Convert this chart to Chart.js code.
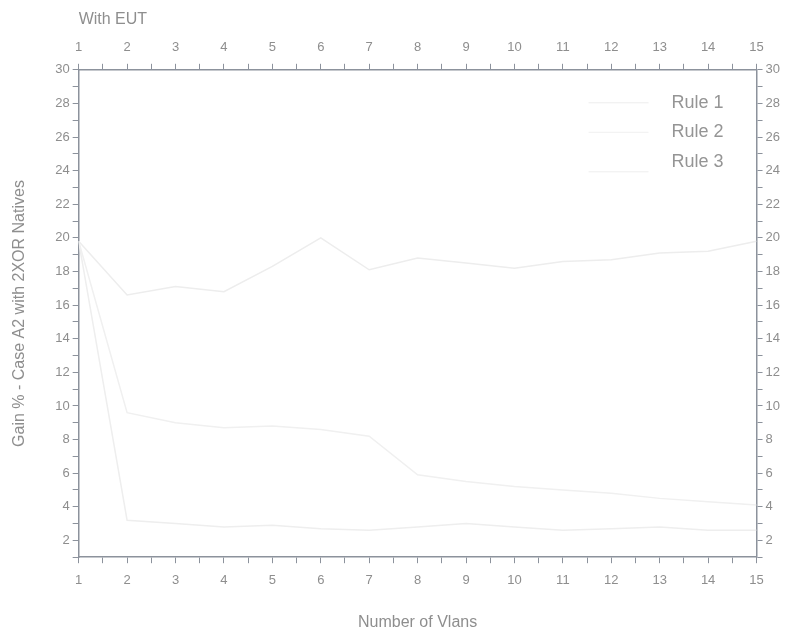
<!DOCTYPE html>
<html>
<head>
<meta charset="utf-8">
<script src="https://cdn.jsdelivr.net/npm/chart.js@4.4.0/dist/chart.umd.min.js"></script>
<style>
  body { margin: 0; background: #fff; }
  #wrap { width: 791px; height: 632px; }
</style>
</head>
<body>
<div id="wrap"><canvas id="gain-chart" width="791" height="632"></canvas></div>
<script>
// Values (lines are very faint, so estimates)
const vlans = [1, 2, 3, 4, 5, 6, 7, 8, 9, 10, 11, 12, 13, 14, 15];
const rule1 = [19.8, 16.6, 17.1, 16.8, 18.3, 20.0, 18.1, 18.8, 18.5, 18.2, 18.6, 18.7, 19.1, 19.2, 19.8];
const rule2 = [19.8, 9.6, 9.0, 8.7, 8.8, 8.6, 8.2, 5.9, 5.5, 5.2, 5.0, 4.8, 4.5, 4.3, 4.1];
const rule3 = [19.8, 3.2, 3.0, 2.8, 2.9, 2.7, 2.6, 2.8, 3.0, 2.8, 2.6, 2.7, 2.8, 2.6, 2.6];
const seriesNames = ['Rule 1', 'Rule 2', 'Rule 3'];
const lineColors = ['#ededed', '#f0f0f0', '#eeeeee'];

const axisColor = '#8c929c';
const textColor = '#8e8e8e';
const fontFamily = '"Liberation Sans", Arial, sans-serif';

function toPoints(values) {
    return vlans.map((v, i) => ({ x: v, y: values[i] }));
}

// legend drawn inside the plot, top right, line sample left of the text
const insideLegend = {
    id: 'insideLegend',
    afterDraw(chart) {
        const ctx = chart.ctx;
        const right = chart.chartArea.right - 33;
        ctx.save();
        ctx.font = '18px ' + fontFamily;
        ctx.textAlign = 'right';
        ctx.textBaseline = 'middle';
        seriesNames.forEach((name, i) => {
            const y = chart.chartArea.top + 33 + i * 29.5;
            ctx.strokeStyle = lineColors[i];
            ctx.lineWidth = 1;
            ctx.beginPath();
            ctx.moveTo(right - 135, y + (i === 2 ? 10 : 0));
            ctx.lineTo(right - 75, y + (i === 2 ? 10 : 0));
            ctx.stroke();
            ctx.fillStyle = '#959595';
            ctx.fillText(name, right, y);
        });
        ctx.restore();
    }
};

const xTicks = {
    stepSize: 0.5,
    padding: 9,
    color: textColor,
    font: { size: 13, family: fontFamily },
    maxRotation: 0,
    autoSkip: false,
    callback: v => Number.isInteger(v) ? v : ''
};
const yTicks = {
    stepSize: 1,
    color: textColor,
    font: { size: 13, family: fontFamily },
    autoSkip: false,
    callback: v => v % 2 === 0 ? v : ''
};

new Chart(document.getElementById('gain-chart'), {
    type: 'line',
    data: {
        datasets: [rule1, rule2, rule3].map((vals, i) => ({
            label: seriesNames[i],
            data: toPoints(vals),
            borderColor: lineColors[i],
            borderWidth: 1.5,
            pointRadius: 0,
            tension: 0,
            xAxisID: 'x',
            yAxisID: 'y'
        }))
    },
    options: {
        responsive: false,
        animation: false,
        layout: { padding: { left: 10, right: 8, top: 10, bottom: 0 } },
        plugins: {
            legend: { display: false },
            tooltip: { enabled: false }
        },
        scales: {
            x: {
                type: 'linear',
                position: 'bottom',
                min: 1, max: 15,
                ticks: xTicks,
                grid: { drawOnChartArea: false, tickLength: 6, color: axisColor },
                border: { color: axisColor, width: 1.5 },
                title: {
                    display: true,
                    text: 'Number of Vlans',
                    color: textColor,
                    font: { size: 16, family: fontFamily },
                    padding: { top: 16, bottom: 0 }
                }
            },
            x2: {
                type: 'linear',
                position: 'top',
                min: 1, max: 15,
                ticks: xTicks,
                grid: { drawOnChartArea: false, tickLength: 6, color: axisColor },
                border: { color: axisColor, width: 1.5 },
                title: {
                    display: true,
                    text: 'With EUT',
                    align: 'start',
                    color: textColor,
                    font: { size: 16, family: fontFamily },
                    padding: { top: 0, bottom: 1 }
                }
            },
            y: {
                type: 'linear',
                position: 'left',
                min: 1, max: 30,
                ticks: yTicks,
                grid: { drawOnChartArea: false, tickLength: 6, color: axisColor },
                border: { color: axisColor, width: 1.5 },
                title: {
                    display: true,
                    text: 'Gain % - Case A2 with 2XOR Natives',
                    color: textColor,
                    font: { size: 16, family: fontFamily },
                    padding: { top: 0, bottom: 23 }
                }
            },
            y2: {
                type: 'linear',
                position: 'right',
                min: 1, max: 30,
                ticks: yTicks,
                grid: { drawOnChartArea: false, tickLength: 6, color: axisColor },
                border: { color: axisColor, width: 1.5 }
            }
        }
    },
    plugins: [insideLegend]
});
</script>
</body>
</html>
